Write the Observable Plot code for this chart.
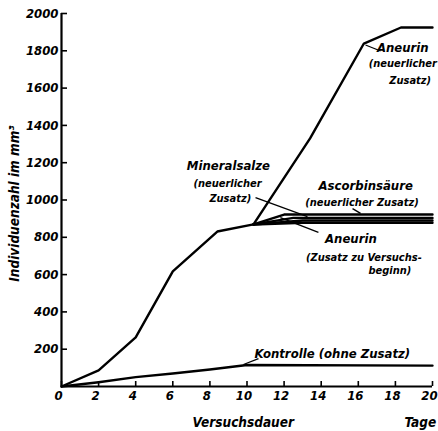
<!DOCTYPE html>
<html><head><meta charset="utf-8">
<script src="https://cdn.jsdelivr.net/npm/d3@7"></script>
<script src="https://cdn.jsdelivr.net/npm/@observablehq/plot@0.6"></script>
<style>
body{margin:0;background:#fff;}
#chart svg{font-family:"DejaVu Sans Condensed","Liberation Sans Narrow","DejaVu Sans",sans-serif;font-style:italic;font-weight:bold;background:#fff;}
</style></head><body><div id="chart"></div>
<script>
// Data (days, individuals per mm³)
const mainDays = [0, 2, 4, 6, 8.4, 10.35];
const mainValues = [0, 86, 263, 617, 831, 869];
const aneurinNeuDays = [10.35, 13.4, 16.3, 18.3, 20];
const aneurinNeuValues = [869, 1330, 1839, 1925, 1925];
const ascorbinDays = [10.35, 12, 20];
const ascorbinValues = [869, 922, 922];
const mineralDays = [10.35, 12.5, 20];
const mineralValues = [869, 904, 904];
const aneurinBeginnDays = [10.35, 13, 20];
const aneurinBeginnValues = [869, 890, 890];
const restDays = [10.35, 13, 20];
const restValues = [869, 878, 878];
const kontrolleDays = [0, 2, 4, 6, 8, 10, 20];
const kontrolleValues = [0, 23, 50, 70, 91, 115, 112];

const xTicks = [0, 2, 4, 6, 8, 10, 12, 14, 16, 18, 20];
const yTicks = [200, 400, 600, 800, 1000, 1200, 1400, 1600, 1800, 2000];

// Annotations
const mainLabels = ["Mineralsalze", "Ascorbinsäure", "Aneurin", "Aneurin", "Kontrolle (ohne Zusatz)"];
const mainLabelX = [9.0, 16.4, 15.6, 18.4, 14.6];
const mainLabelY = [1185, 1078, 794, 1818, 177];
const subLabels = ["(neuerlicher", "Zusatz)", "(neuerlicher Zusatz)", "(Zusatz zu Versuchs-", "beginn)", "(neuerlicher", "Zusatz)"];
const subLabelX = [8.95, 9.1, 16.2, 16.3, 17.7, 18.4, 18.8];
const subLabelY = [1088, 1008, 987, 692, 622, 1732, 1641];
const pointerX1 = [10.46, 15.69, 11.8, 10.62, 16.39];
const pointerY1 = [1013, 954, 906, 150, 1831];
const pointerX2 = [13.26, 16.12, 13.85, 9.81, 17.2];
const pointerY2 = [911, 928, 826, 118, 1799];
const xTitle = "Versuchsdauer";
const unitTitle = "Tage";
const yTitle = "Individuenzahl im mm³";

function series(name, xs, ys) { return xs.map((x, i) => ({name, x, y: ys[i]})); }
const lines = [
  ...series("main", mainDays, mainValues),
  ...series("aneurinNeu", aneurinNeuDays, aneurinNeuValues),
  ...series("ascorbin", ascorbinDays, ascorbinValues),
  ...series("mineral", mineralDays, mineralValues),
  ...series("aneurinBeginn", aneurinBeginnDays, aneurinBeginnValues),
  ...series("rest", restDays, restValues),
  ...series("kontrolle", kontrolleDays, kontrolleValues)
];
const pointers = pointerX1.map((x1, i) => ({x1, y1: pointerY1[i], x2: pointerX2[i], y2: pointerY2[i]}));

const chart = Plot.plot({
  width: 438,
  height: 431,
  marginLeft: 61,
  marginRight: 6,
  marginTop: 13,
  marginBottom: 45,
  x: {domain: [0, 20]},
  y: {domain: [0, 2000]},
  style: {fontFamily: '"DejaVu Sans Condensed","Liberation Sans Narrow","DejaVu Sans",sans-serif', color: "#000"},
  marks: [
    Plot.ruleX([0], {y1: 0, y2: 2000, strokeWidth: 2.2}),
    Plot.ruleY([0], {x1: 0, x2: 20, strokeWidth: 2.2}),
    Plot.axisX({ticks: xTicks, tickSize: 5, dy: -5, tickFormat: () => "", label: null, strokeWidth: 1.6}),
    Plot.axisX({ticks: xTicks, tickSize: 0, tickPadding: 4, dx: -3, fontSize: 13, label: null, tickFormat: d => String(d)}),
    Plot.axisY({ticks: yTicks, tickSize: 6, dx: 6, tickFormat: () => "", label: null, strokeWidth: 1.6}),
    Plot.axisY({ticks: yTicks, tickSize: 0, tickPadding: 3, fontSize: 13, label: null, tickFormat: d => String(d)}),
    Plot.line(lines, {x: "x", y: "y", z: "name", stroke: "#000", strokeWidth: 2.4, strokeLinejoin: "round"}),
    Plot.link(pointers, {x1: "x1", y1: "y1", x2: "x2", y2: "y2", stroke: "#000", strokeWidth: 1.3}),
    Plot.text(mainLabels, {x: (d, i) => mainLabelX[i], y: (d, i) => mainLabelY[i], text: d => d, fontSize: 13, fill: "#000"}),
    Plot.text(subLabels, {x: (d, i) => subLabelX[i], y: (d, i) => subLabelY[i], text: d => d, fontSize: 11, fill: "#000"}),
    Plot.text([xTitle], {x: 9.8, y: -193, text: d => d, fontSize: 13.5, fill: "#000"}),
    Plot.text([unitTitle], {x: 20.2, y: -193, text: d => d, fontSize: 13.5, fill: "#000", textAnchor: "end"}),
    Plot.text([yTitle], {x: -2.5, y: 981, text: d => d, rotate: -90, fontSize: 13.5, fill: "#000"})
  ]
});
document.getElementById("chart").appendChild(chart);
</script>
</body></html>
